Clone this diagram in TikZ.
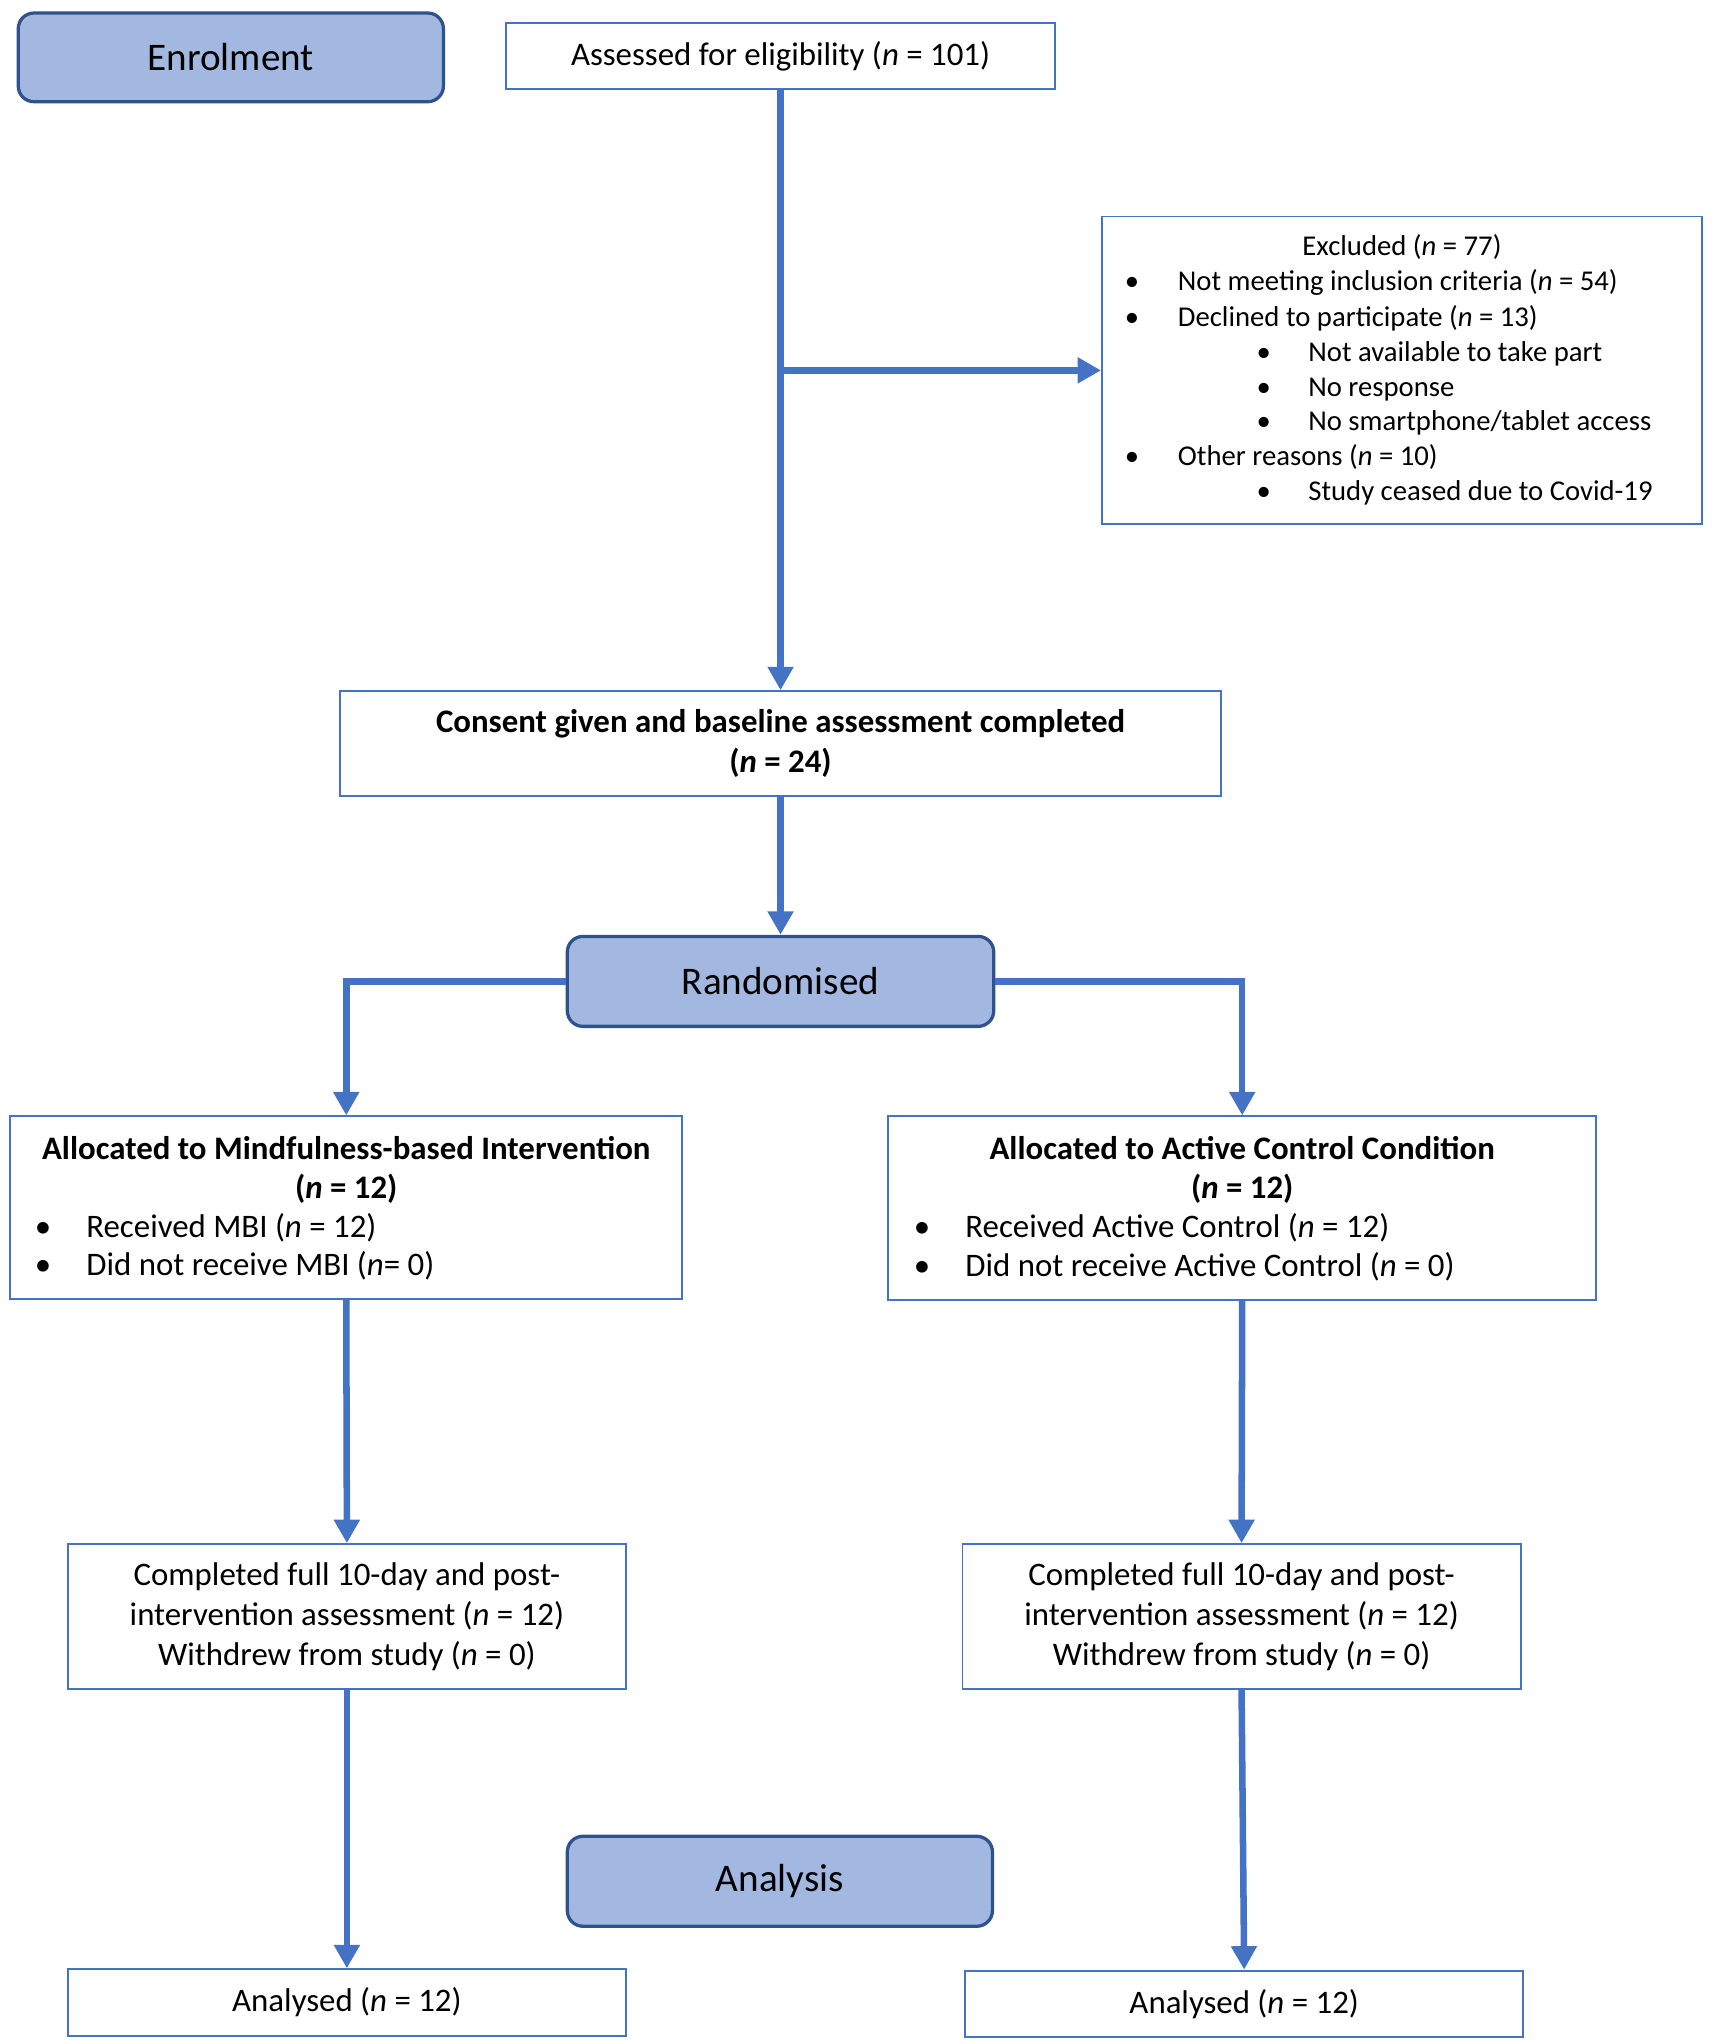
\documentclass[tikz,border=0pt]{standalone}
\usepackage{fontspec}
\setmainfont{Carlito}
\usetikzlibrary{arrows.meta}
\definecolor{boxblue}{HTML}{4472C4}
\definecolor{hdrfill}{HTML}{A3B8E1}
\definecolor{hdrline}{HTML}{2F528F}
\tikzset{
  plainbox/.style={draw=boxblue, line width=1.5pt, inner sep=0pt, fill=white, align=center,
    font=\fontsize{25.2}{30.5}\selectfont},
  hdrbox/.style={draw=hdrline, fill=hdrfill, line width=2.5pt, rounded corners=12pt, inner sep=0pt,
    font=\fontsize{30}{36}\selectfont},
  conn/.style={draw=boxblue, line width=5pt},
  arr/.style={conn, -{Triangle[width=19pt,length=18pt]}},
  txt/.style={inner sep=0pt, font=\fontsize{25.2}{30}\selectfont},
  smalltxt/.style={inner sep=0pt, font=\fontsize{22}{27}\selectfont}
}
\begin{document}
\begin{tikzpicture}[x=1pt,y=-1pt]
\useasboundingbox (0,0) rectangle (1313.5,1565);

% header boxes
\node[hdrbox, minimum width=326pt, minimum height=68pt] (enrol) at (177,44) {Enrolment};
\node[hdrbox, minimum width=327pt, minimum height=69pt] (rand) at (598.5,752.5) {Randomised};
\node[hdrbox, minimum width=326pt, minimum height=69pt] (anal) at (598,1442.5) {Analysis};

% plain boxes
\node[plainbox, minimum width=421pt, minimum height=50pt] (assess) at (598.5,43) {Assessed for eligibility (\textit{n} = 101)};
\node[plainbox, minimum width=460pt, minimum height=236pt] (excl) at (1075,284) {};
\node[plainbox, minimum width=675pt, minimum height=80pt] (consent) at (598.5,570)
  {\textbf{Consent given and baseline assessment completed}\\\textbf{(\textit{n} = 24)}};
\node[plainbox, minimum width=515pt, minimum height=140pt] (allocL) at (265.5,926) {};
\node[plainbox, minimum width=543pt, minimum height=141pt] (allocR) at (952.5,926.5) {};
\node[plainbox, minimum width=428pt, minimum height=111pt] (compL) at (266,1239.5)
  {Completed full 10-day and post-\\intervention assessment (\textit{n} = 12)\\Withdrew from study (\textit{n} = 0)};
\node[plainbox, minimum width=428pt, minimum height=111pt] (compR) at (952,1239.5)
  {Completed full 10-day and post-\\intervention assessment (\textit{n} = 12)\\Withdrew from study (\textit{n} = 0)};
\node[plainbox, minimum width=428pt, minimum height=51pt] (analysL) at (266,1535.5) {Analysed (\textit{n} = 12)};
\node[plainbox, minimum width=428pt, minimum height=51pt] (analysR) at (954,1536.5) {Analysed (\textit{n} = 12)};

% excluded text
\node[smalltxt, anchor=base] (ex0) at (1075,196) {Excluded (\textit{n} = 77)};
\node[smalltxt, anchor=base] (exb1) at (868,223) {\textbullet};
\node[smalltxt, anchor=base west] (ext1) at (903,223) {Not meeting inclusion criteria (\textit{n} = 54)};
\node[smalltxt, anchor=base] (exb2) at (868,250) {\textbullet};
\node[smalltxt, anchor=base west] (ext2) at (903,250) {Declined to participate (\textit{n} = 13)};
\node[smalltxt, anchor=base] (exb3) at (969,277) {\textbullet};
\node[smalltxt, anchor=base west] (ext3) at (1003,277) {Not available to take part};
\node[smalltxt, anchor=base] (exb4) at (969,304) {\textbullet};
\node[smalltxt, anchor=base west] (ext4) at (1003,304) {No response};
\node[smalltxt, anchor=base] (exb5) at (969,330) {\textbullet};
\node[smalltxt, anchor=base west] (ext5) at (1003,330) {No smartphone/tablet access};
\node[smalltxt, anchor=base] (exb6) at (868,357) {\textbullet};
\node[smalltxt, anchor=base west] (ext6) at (903,357) {Other reasons (\textit{n} = 10)};
\node[smalltxt, anchor=base] (exb7) at (969,384) {\textbullet};
\node[smalltxt, anchor=base west] (ext7) at (1003,384) {Study ceased due to Covid-19};

% allocation left text
\node[txt, anchor=base] (alT1) at (265.5,889) {\textbf{Allocated to Mindfulness-based Intervention}};
\node[txt, anchor=base] (alT2) at (265.5,919) {\textbf{(\textit{n} = 12)}};
\node[txt, anchor=base] (alB1) at (33,949) {\textbullet};
\node[txt, anchor=base west] (alI1) at (66,949) {Received MBI (\textit{n} = 12)};
\node[txt, anchor=base] (alB2) at (33,978) {\textbullet};
\node[txt, anchor=base west] (alI2) at (66,978) {Did not receive MBI (\textit{n}= 0)};

% allocation right text
\node[txt, anchor=base] (arT1) at (952.5,889) {\textbf{Allocated to Active Control Condition}};
\node[txt, anchor=base] (arT2) at (952.5,919) {\textbf{(\textit{n} = 12)}};
\node[txt, anchor=base] (arB1) at (707,949) {\textbullet};
\node[txt, anchor=base west] (arI1) at (740,949) {Received Active Control (\textit{n} = 12)};
\node[txt, anchor=base] (arB2) at (707,979) {\textbullet};
\node[txt, anchor=base west] (arI2) at (740,979) {Did not receive Active Control (\textit{n} = 0)};

% connectors
\coordinate (br) at (598.5,284);
\draw[arr] (assess.south) -- (consent.north);
\draw[arr] (br) -- (excl.west);
\draw[arr] (consent.south) -- (rand.north);
\draw[arr] (rand.west) -| (allocL.north);
\draw[arr] (rand.east) -| (allocR.north);
\draw[arr] (allocL.south) -- (compL.north);
\draw[arr] (allocR.south) -- (compR.north);
\draw[arr] (compL.south) -- (analysL.north);
\draw[arr] (compR.south) -- (analysR.north);
\end{tikzpicture}
\end{document}
